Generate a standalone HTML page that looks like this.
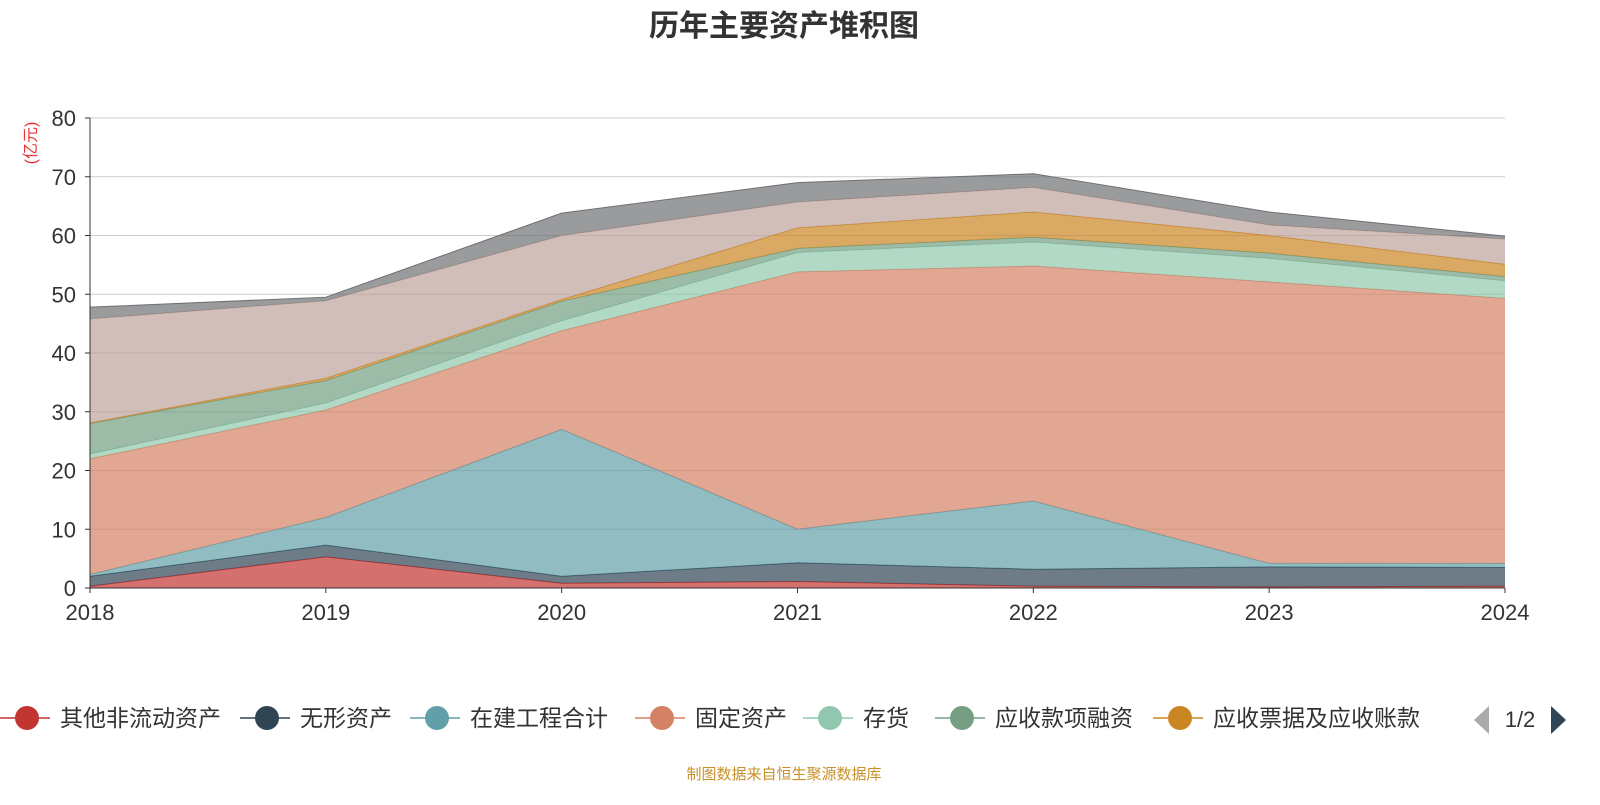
<!DOCTYPE html>
<html><head><meta charset="utf-8">
<style>
body{margin:0;background:#fff;width:1600px;height:800px;overflow:hidden;font-family:"Liberation Sans","Noto Sans CJK SC",sans-serif;}
</style></head>
<body>
<svg id="chart" width="1600" height="800" xmlns="http://www.w3.org/2000/svg" font-family="Liberation Sans, Noto Sans CJK SC, sans-serif">
<text x="784" y="36" text-anchor="middle" font-size="30" font-weight="bold" fill="#333">历年主要资产堆积图</text>
<text transform="translate(36,143) rotate(-90)" text-anchor="middle" font-size="16" fill="#e33">(亿元)</text>
<g id="grid"></g><g id="areas"></g><g id="axes"></g><g id="legend"></g>
<text x="784" y="779" text-anchor="middle" font-size="15" fill="#c8902a">制图数据来自恒生聚源数据库</text>
</svg>
<script>
const years=["2018","2019","2020","2021","2022","2023","2024"];
const yTicks=[0,10,20,30,40,50,60,70,80];
const seriesNames=["其他非流动资产","无形资产","在建工程合计","固定资产","存货","应收款项融资","应收票据及应收账款","货币资金","其他"];
const sOther=[0.3,5.3,0.8,1.1,0.3,0.2,0.3];
const sIntang=[1.7,2.0,1.2,3.2,2.9,3.4,3.2];
const sCip=[0.3,4.7,25,5.7,11.6,0.6,0.7];
const sFixed=[19.7,18.3,16.8,43.8,40,47.9,45.1];
const sInv=[0.8,1.2,1.7,3.3,4.1,4.0,3.0];
const sFin=[5.2,3.8,3.3,0.7,0.8,0.9,0.7];
const sNotes=[0.1,0.4,0.3,3.5,4.3,3.0,2.1];
const sCash=[17.7,13.2,10.9,4.4,4.2,1.8,4.3];
const sRest=[2.0,0.6,3.8,3.3,2.3,2.2,0.5];
const allSeries=[sOther,sIntang,sCip,sFixed,sInv,sFin,sNotes,sCash,sRest];
const colors=['#c23531','#2f4554','#61a0a8','#d48265','#91c7ae','#749f83','#ca8622','#bda29a','#6e7074'];
const NS="http://www.w3.org/2000/svg";
const x0=90,x1=1505,yb=588,yt=118,ymax=80;
const xs=i=>x0+(x1-x0)*i/(years.length-1);
const ys=v=>yb-(yb-yt)*v/ymax;
function mk(t,a,p){const e=document.createElementNS(NS,t);for(const k in a)e.setAttribute(k,a[k]);p.appendChild(e);return e;}
const grid=document.getElementById('grid'),axes=document.getElementById('axes'),areas=document.getElementById('areas'),legend=document.getElementById('legend');
yTicks.forEach(v=>{
  if(v>0){const l=mk('line',{x1:x0,x2:x1,y1:ys(v),y2:ys(v),stroke:'#ccc'},grid);
  
  }
  const t=mk('text',{x:76,y:ys(v)+8,'text-anchor':'end','font-size':22,fill:'#333'},axes);t.textContent=v;
  
  
  mk('line',{x1:x0-5,x2:x0,y1:ys(v),y2:ys(v),stroke:'#333'},axes);
});
years.forEach((y,i)=>{
  const t=mk('text',{x:xs(i),y:620,'text-anchor':'middle','font-size':22,fill:'#333'},axes);t.textContent=y;
  
  
  mk('line',{x1:xs(i),x2:xs(i),y1:yb,y2:yb+5,stroke:'#333'},axes);
});
mk('line',{x1:x0,x2:x1,y1:yb,y2:yb,stroke:'#333'},axes);
mk('line',{x1:x0,x2:x0,y1:yt,y2:yb,stroke:'#333'},axes);
let base=years.map(()=>0);
allSeries.forEach((s,k)=>{
  const top=base.map((b,i)=>b+s[i]);
  let d='M'+top.map((v,i)=>xs(i)+','+ys(v)).join('L');
  for(let i=years.length-1;i>=0;i--)d+='L'+xs(i)+','+ys(base[i]);
  const p=mk('path',{d:d+'Z',fill:colors[k],'fill-opacity':0.7},areas);
  
  
  const l=mk('polyline',{points:top.map((v,i)=>xs(i)+','+ys(v)).join(' '),fill:'none',stroke:colors[k],'stroke-width':1},areas);
  
  
  base=top;
});
const lx=[0,240,410,635,803,935,1153];
for(let k=0;k<7;k++){
  const g=mk('g',{},legend);
  
  
  mk('line',{x1:lx[k],x2:lx[k]+50,y1:718,y2:718,stroke:colors[k],'stroke-width':1.5},g);
  mk('circle',{cx:lx[k]+27,cy:718,r:12,fill:colors[k]},g);
  const t=mk('text',{x:lx[k]+60,y:726,'font-size':23,fill:'#333'},g);t.textContent=seriesNames[k];
}
const pp=mk('polygon',{points:'1489,706 1489,734 1474,720',fill:'#aaa'},legend);


const pt=mk('text',{x:1520,y:727,'text-anchor':'middle','font-size':22,fill:'#333'},legend);pt.textContent='1/2';


const pn=mk('polygon',{points:'1551,706 1551,734 1566,720',fill:'#2f4554'},legend);


</script>
</body></html>
